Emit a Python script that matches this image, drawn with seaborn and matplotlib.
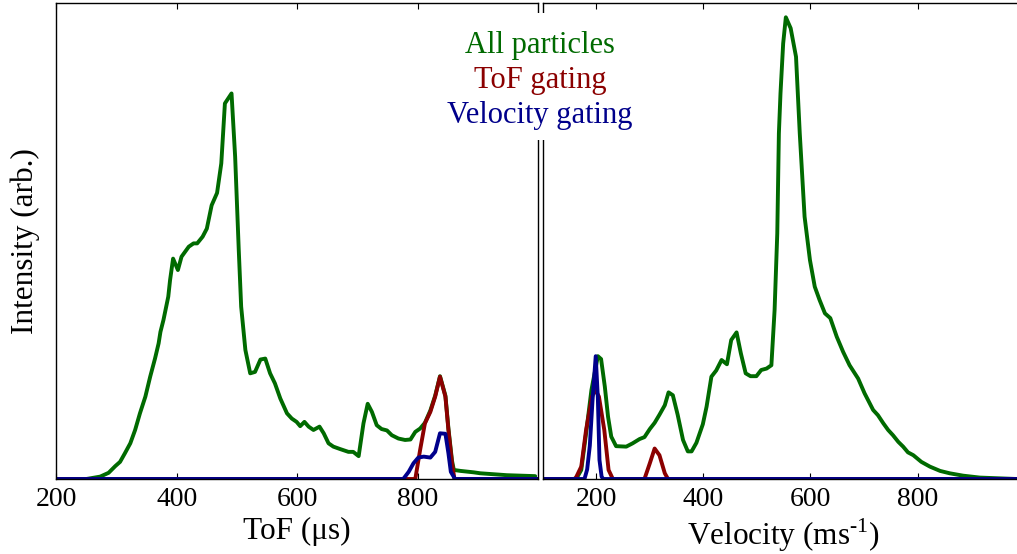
import pandas as pd
import seaborn as sns
import matplotlib.pyplot as plt
from matplotlib.patches import Rectangle

# left panel: time of flight (us) vs intensity (arb.)
tof_all = [200, 250, 273, 287, 298, 306, 314, 323, 331, 339, 348, 356, 364, 370, 373, 378, 386, 389, 394, 402,
           408, 420, 428, 434, 443, 450, 458, 467, 474, 480, 491, 497, 503, 507, 514, 522, 530, 539, 547, 555,
           563, 572, 583, 591, 599, 605, 612, 619, 627, 637, 644, 652, 660, 671, 685, 693, 702, 710, 717, 724,
           732, 740, 749, 757, 768, 779, 788, 796, 804, 812, 821, 829, 837, 846, 851, 857, 860, 871, 893, 904,
           948, 995]
int_all = [0, 0, 0.5, 1.3, 2.7, 3.6, 5.4, 7.5, 10.3, 13.8, 17.3, 21.5, 25.3, 28.5, 30.9, 33.4, 38.3, 41.8, 46.3, 43.9,
           46.7, 48.8, 49.5, 49.5, 50.9, 52.6, 57.5, 60.1, 66.3, 78.9, 81.0, 67.7, 48.1, 36.2, 27.1, 22.2, 22.5, 25.1, 25.3, 22.2,
           20.1, 16.9, 13.8, 12.7, 12.0, 11.1, 12.0, 11.0, 10.3, 11.0, 9.6, 7.5, 6.8, 6.3, 5.7, 5.7, 4.8, 11.7, 15.8, 14.1,
           11.3, 10.5, 10.2, 9.2, 8.5, 8.2, 8.3, 9.9, 10.6, 11.8, 14.4, 17.5, 21.6, 17.5, 10.6, 3.8, 1.9, 1.7, 1.4, 1.2,
           0.8, 0.6]
tof_tofgate = [200, 796, 804, 812, 821, 829, 837, 846, 851, 857, 861, 1000]
int_tofgate = [0, 0, 6.1, 11.7, 14.1, 17.3, 21.5, 17.3, 10.3, 3.3, 0, 0]
tof_velgate = [200, 776, 785, 793, 801, 810, 821, 829, 837, 846, 851, 855, 862, 1000]
int_velgate = [0, 0, 1.5, 3.3, 4.5, 4.7, 4.5, 5.7, 9.6, 9.5, 5.4, 1.5, 0, 0]

# right panel: velocity (m/s) vs intensity (arb.)
vel_all = [100, 156, 163, 172, 181, 191, 203, 209, 216, 222, 228, 237, 256, 268, 281, 290, 300, 309, 318, 328,
           335, 343, 352, 362, 371, 378, 387, 399, 406, 415, 424, 434, 444, 452, 462, 470, 479, 488, 499, 508,
           518, 527, 533, 538, 541, 544, 549, 554, 563, 573, 580, 589, 599, 608, 617, 627, 637, 649, 661, 673,
           689, 701, 717, 726, 736, 745, 754, 764, 773, 782, 792, 807, 823, 842, 860, 885, 916, 985, 1000]
vint_all = [0, 0, 0.1, 1.9, 9.6, 18.7, 25.8, 25.2, 19.4, 13.1, 8.9, 6.9, 6.8, 7.5, 8.4, 8.8, 10.5, 11.8, 13.5, 15.5,
            18.2, 17.6, 13.5, 8.2, 5.8, 5.8, 7.6, 11.5, 15.2, 21.5, 22.8, 25.0, 24.1, 29.2, 30.8, 26.4, 22.2, 21.6, 21.6, 22.9,
            23.2, 23.9, 35.5, 51.6, 72.6, 81.0, 91.5, 97.0, 94.7, 88.7, 72.6, 55.1, 46.0, 40.4, 37.6, 34.8, 33.8, 29.9, 26.7, 23.9,
            21.1, 18.0, 14.5, 13.4, 11.7, 10.3, 9.2, 7.8, 6.8, 5.6, 5.0, 3.6, 2.6, 1.7, 1.2, 0.7, 0.3, 0, 0]
vel_tofgate = [100, 160, 163, 172, 181, 192, 198, 205, 215, 223, 231, 290, 300, 309, 318, 328, 334, 1000]
vint_tofgate = [0, 0, 0.5, 2.6, 10.3, 17.3, 18.8, 17.3, 10.3, 1.9, 0, 0, 3.3, 6.4, 5.0, 1.2, 0, 0]
vel_velgate = [100, 178, 183, 188, 193, 199, 203, 206, 210, 213, 1000]
vint_velgate = [0, 0, 2.0, 7.0, 16.5, 25.8, 17.0, 4.0, 0.5, 0, 0]

labels = ["All particles", "ToF gating", "Velocity gating"]
colors = ["#006a00", "#8b0000", "#00008b"]


def long_df(xs, ys):
    parts = []
    for x, y, lab in zip(xs, ys, labels):
        parts.append(pd.DataFrame({"x": x, "intensity": y, "series": lab}))
    return pd.concat(parts, ignore_index=True)


tof_df = long_df([tof_all, tof_tofgate, tof_velgate], [int_all, int_tofgate, int_velgate])
vel_df = long_df([vel_all, vel_tofgate, vel_velgate], [vint_all, vint_tofgate, vint_velgate])

sns.set_style("ticks")
plt.rcParams['font.family'] = ['Liberation Serif', 'DejaVu Serif']
plt.rcParams['mathtext.fontset'] = 'custom'
plt.rcParams['mathtext.rm'] = 'Liberation Serif'
plt.rcParams['text.color'] = 'black'
plt.rcParams['axes.labelcolor'] = 'black'
plt.rcParams['xtick.color'] = 'black'
plt.rcParams['xtick.direction'] = 'in'
plt.rcParams['xtick.top'] = True
plt.rcParams['xtick.major.size'] = 4.5
plt.rcParams['axes.linewidth'] = 1.0
plt.rcParams['axes.edgecolor'] = 'black'

fig = plt.figure(figsize=(10.17, 5.54), dpi=100)
ax1 = fig.add_axes([56.2 / 1017, 75 / 554, 482 / 1017, 476 / 554])
ax2 = fig.add_axes([542.7 / 1017, 75 / 554, 482 / 1017, 476 / 554])

for ax, df in [(ax1, tof_df), (ax2, vel_df)]:
    sns.lineplot(data=df, x="x", y="intensity", hue="series", hue_order=labels, palette=colors,
                 estimator=None, sort=False, linewidth=2.8, legend=False, ax=ax)
    ax.set_ylim(0, 100)
    ax.set_yticks([])
    ax.set_xticks([200, 400, 600, 800])
    ax.tick_params(axis='x', labelsize=20, pad=6, width=0.8, colors='black')
    ax.set_ylabel("")

ax1.set_xlim(200, 1000)
ax2.set_xlim(100, 1000)
ax1.set_xlabel("ToF (μs)", fontsize=22.5, labelpad=3)
ax2.set_xlabel(r"Velocity (ms$^{\text{-1}}$)", fontsize=22.5, labelpad=3)
ax1.set_ylabel("Intensity (arb.)", fontsize=22.5, labelpad=12)

# legend-like labels with white box over the spines
fig.patches.append(Rectangle((448 / 1017, 1 - 140 / 554), 196 / 1017, 127 / 554,
                             transform=fig.transFigure, facecolor='white', edgecolor='none', zorder=5))
for i, (lab, c) in enumerate(zip(labels, colors)):
    fig.text(540 / 1017, 1 - (45 + 35.5 * i) / 554, lab, color=c, fontsize=22,
             ha='center', va='center', zorder=6)

fig.savefig("out.png", dpi=100)
